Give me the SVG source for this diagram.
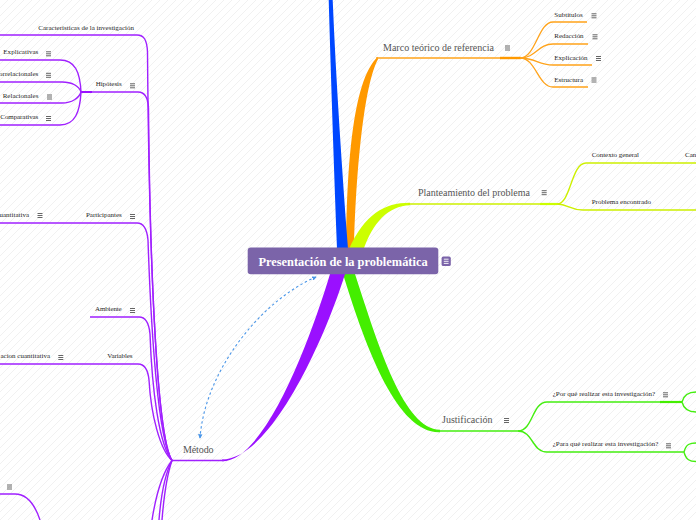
<svg xmlns="http://www.w3.org/2000/svg" width="696" height="520" viewBox="0 0 696 520">
<style>
.lbl{font-family:"Liberation Serif","Times New Roman",serif;font-size:10px;fill:#555}
.sm{font-family:"Liberation Serif","Times New Roman",serif;font-size:7px;fill:#262626}
.root{font-family:"Liberation Serif","Times New Roman",serif;font-size:12.4px;font-weight:bold;fill:#fff}
.pu{fill:none;stroke:#a020ff;stroke-width:1.4}
.or{fill:none;stroke:#ffa31a;stroke-width:1.3}
.yg{fill:none;stroke:#cdf000;stroke-width:1.4}
.gr{fill:none;stroke:#44ee10;stroke-width:1.4}
.mi line{stroke:#555;stroke-width:0.9}
</style>
<defs>
<pattern id="bg" width="8" height="8" patternUnits="userSpaceOnUse">
<path d="M-2,2 L2,-2 M0,8 L8,0 M6,10 L10,6" stroke="#f1f1f1" stroke-width="1"/>
</pattern>
<symbol id="m" class="mi" overflow="visible">
<line x1="0" y1="0.5" x2="5" y2="0.5"/><line x1="0" y1="2.5" x2="5" y2="2.5"/><line x1="0" y1="4.5" x2="5" y2="4.5"/>
</symbol>
<marker id="ah" viewBox="0 0 6 6" refX="5" refY="3" markerWidth="4.5" markerHeight="4.5" orient="auto-start-reverse" markerUnits="userSpaceOnUse">
<path d="M0,0 L6,3 L0,6 z" fill="#4a96e8"/>
</marker>
</defs>
<rect width="696" height="520" fill="#fff"/>
<rect width="696" height="520" fill="url(#bg)"/>

<g id="connectors">
<!-- main branches -->
<path d="M346,249 C 347,170 352,80 378,56.8 L378,59.2 C 364,85 356,170 354,249 Z" fill="#ff9900"/>
<path d="M349,249 C 365,214 385,202.6 410,202.8 L410,205.2 C 388,206 373,222 363,251 Z" fill="#ccff00"/>
<path d="M328.7,0 L332.7,0 C 336,80 342,170 348,249 L 337,249 C 334,170 331,80 328.7,0 Z" fill="#0047ff"/>
<path d="M343,274 C 367,352 398,433.5 440,432.2 L440,429.8 C 404,429 379,348 355,274 Z" fill="#44ee00"/>
<path d="M330,274 C 312,334 266,461.3 222,461.3 L222,459.5 C 273,459 328,330 345,274 Z" fill="#9a10ff"/>

<!-- orange -->
<path class="or" d="M376,58 L520,58"/>
<path d="M500,58 L521,58" stroke="#ff9900" stroke-width="2.4"/>
<path class="or" d="M520,58 C 536,58 538,22 553,22 L587,22"/>
<path class="or" d="M520,58 C 536,58 538,44 553,44 L588,44"/>
<path class="or" d="M520,58 C 536,58 538,65 553,65 L592,65"/>
<path class="or" d="M520,58 C 536,58 538,87 553,87 L588,87"/>

<!-- yellow-green -->
<path class="yg" d="M408,204 L557,204"/>
<path d="M540,204 L557,204" stroke="#ccff00" stroke-width="2.2"/>
<path class="yg" d="M557,204 C 571,204 571,163 586,163 L696,163"/>
<path class="yg" d="M557,204 C 568,204 570,210 583,210 L696,210"/>

<!-- green -->
<path class="gr" d="M436,431 L518,431"/>
<path class="gr" d="M518,431 C 533,431 532,402 547,402 L682,402"/>
<path d="M660,402 L682,402" stroke="#44ee00" stroke-width="2.2"/>
<path class="gr" d="M682,402 C 684,394 689,392 696,392 M682,402 C 684,410 689,412 696,412"/>
<path class="gr" d="M518,431 C 533,431 532,452 547,452 L684,452"/>
<path class="gr" d="M684,452 C 686,444 690,443 696,443 M684,452 C 686,460 690,461.5 696,461.5"/>

<!-- purple -->
<path class="pu" d="M224,460.5 L172,460.5"/>
<path class="pu" d="M0,35 L137,35 C 144,35 147,40 147.5,52 C 149,250 156,435 172,460.5"/>
<path class="pu" d="M81,92 L138,92 C 145,92 148,97 148.5,108 C 150,270 157,438 172,460.5"/>
<path d="M81,92 L92,92" stroke="#9a10ff" stroke-width="2"/>
<path class="pu" d="M0,60 L60,60 C 75,60 80,72 81,92"/>
<path class="pu" d="M0,82 L62,82 C 72,82 79,86 81,92"/>
<path class="pu" d="M0,103 L62,103 C 72,103 79,98 81,92"/>
<path class="pu" d="M0,125 L60,125 C 75,125 80,112 81,92"/>
<path class="pu" d="M0,223 L137,223 C 144,223 147,229 148,240 C 151,330 158,440 172,460.5"/>
<path class="pu" d="M90,317 L139,317 C 146,317 149,323 150,334 C 152,390 159,445 172,460.5"/>
<path class="pu" d="M0,364 L138,364 C 145,364 148,370 149,380 C 151,415 160,450 172,460.5"/>
<path class="pu" d="M172,460.5 C 163,472 156,495 152,520"/>
<path class="pu" d="M172,460.5 C 166,472 161,495 159,520"/>
<path class="pu" d="M172,460.5 C 168,472 164,495 162,520"/>
<path class="pu" d="M0,494 L15,494 C 27,494 35,505 40,520"/>

<!-- relationship -->
<path d="M316,277 C 262,300 205,370 200,438" fill="none" stroke="#4a96e8" stroke-width="1.1" stroke-dasharray="2.5,2.5" marker-start="url(#ah)" marker-end="url(#ah)"/>
</g>

<g id="root">
<rect x="247.7" y="247.5" width="190.6" height="26.8" rx="3" fill="#7b64a9"/>
<text class="root" x="343" y="266" text-anchor="middle">Presentación de la problemática</text>
<rect x="441.6" y="256.6" width="9.2" height="9.4" rx="1.6" fill="#7b64a9"/>
<path d="M443.8,259.2 H448.6 M443.8,261.3 H448.6 M443.8,263.4 H448.6" stroke="#fff" stroke-width="0.9"/>
</g>

<g id="marco"><text class="lbl" x="383" y="51" textLength="111">Marco teórico de referencia</text><use href="#m" x="505" y="45.5"/></g>
<g id="subtitulos"><text class="sm" x="554.3" y="16.7" textLength="28.4">Subtítulos</text><use href="#m" x="591.5" y="13.3"/></g>
<g id="redaccion"><text class="sm" x="554.3" y="38.3" textLength="29.3">Redacción</text><use href="#m" x="592.5" y="34.3"/></g>
<g id="explicacion"><text class="sm" x="554.3" y="60" textLength="33.3">Explicación</text><use href="#m" x="596" y="56"/></g>
<g id="estructura"><text class="sm" x="554.3" y="81.7" textLength="28.7">Estructura</text><use href="#m" x="591.5" y="77.5"/></g>

<g id="planteamiento"><text class="lbl" x="418" y="196" textLength="112">Planteamiento del problema</text><use href="#m" x="541.7" y="190.2"/></g>
<g id="contexto"><text class="sm" x="591.7" y="157.3" textLength="47.3">Contexto general</text></g>
<g id="can"><text class="sm" x="685" y="157.3">Can</text></g>
<g id="problema"><text class="sm" x="591.7" y="204.3" textLength="59.3">Problema encontrado</text></g>

<g id="justificacion"><text class="lbl" x="442" y="423" textLength="50.5">Justificación</text><use href="#m" x="504" y="418"/></g>
<g id="porque"><text class="sm" x="552.7" y="396" textLength="102.3">¿Por qué realizar esta investigación?</text><use href="#m" x="663" y="392.3"/></g>
<g id="paraque"><text class="sm" x="552.7" y="446" textLength="105.7">¿Para qué realizar esta investigación?</text><use href="#m" x="666" y="443.3"/></g>

<g id="metodo"><text class="lbl" x="183" y="453" textLength="30.5">Método</text></g>
<g id="caracteristicas"><text class="sm" x="38.3" y="29.7" textLength="95.7">Características de la investigación</text></g>
<g id="hipotesis"><text class="sm" x="95.7" y="86.3" textLength="26">Hipótesis</text><use href="#m" x="130" y="83.3"/></g>
<g id="explicativas"><text class="sm" x="3.3" y="54.3" textLength="35">Explicativas</text><use href="#m" x="46" y="51.3"/></g>
<g id="correlacionales"><text class="sm" x="38.3" y="76.3" text-anchor="end">orrelacionales</text><use href="#m" x="46" y="72.8"/></g>
<g id="relacionales"><text class="sm" x="2.7" y="97.7" textLength="35.7">Relacionales</text><use href="#m" x="47" y="94.5"/></g>
<g id="comparativas"><text class="sm" x="0.3" y="119.3" textLength="38">Comparativas</text><use href="#m" x="46" y="116"/></g>
<g id="participantes"><text class="sm" x="86" y="217.3" textLength="35.7">Participantes</text><use href="#m" x="130" y="214"/></g>
<g id="cuantitativa"><text class="sm" x="29" y="217.3" text-anchor="end">uantitativa</text><use href="#m" x="37.5" y="213"/></g>
<g id="ambiente"><text class="sm" x="95" y="311.3" textLength="26.7">Ambiente</text><use href="#m" x="130" y="308"/></g>
<g id="variables"><text class="sm" x="107.3" y="358.3" textLength="25.3">Variables</text></g>
<g id="investigacion-cuantitativa"><text class="sm" x="50" y="358.3" text-anchor="end">acion cuantitativa</text><use href="#m" x="58.3" y="355"/></g>
<g id="bottom-child"><use href="#m" x="7" y="484.5"/></g>
</svg>
